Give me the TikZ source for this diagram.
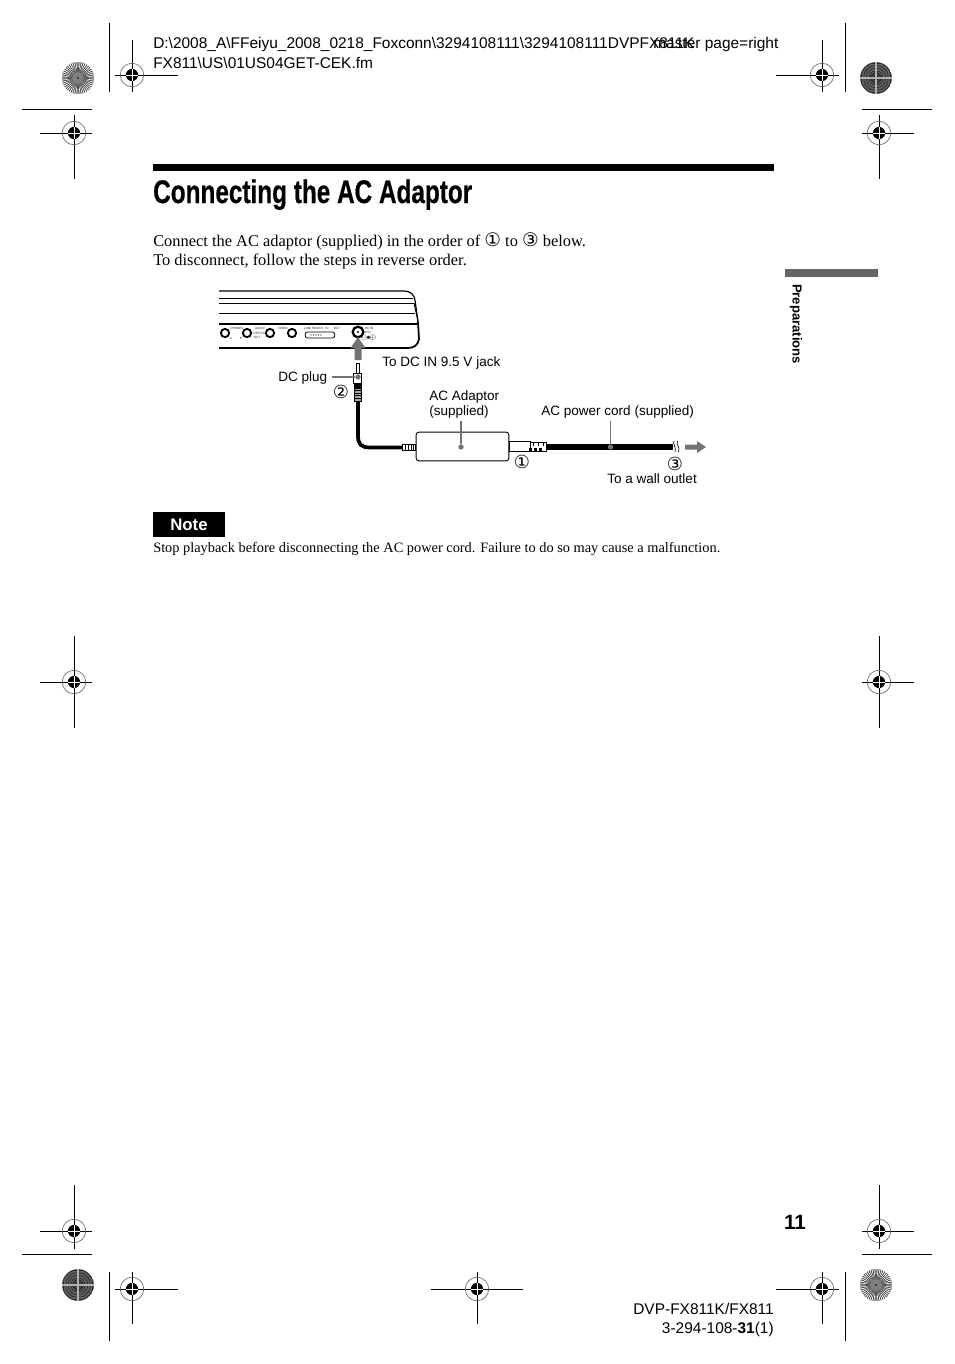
\documentclass[tikz,border=0pt]{standalone}
\usepackage{fontspec}
\setmainfont{Liberation Serif}
\setsansfont{Liberation Sans}
\newfontfamily\symfont{DejaVu Sans}
\usetikzlibrary{arrows,shapes}
\tikzstyle{hdr}=[anchor=base west,inner sep=0pt,font=\sffamily\fontsize{11.6pt}{13pt}\selectfont]
\tikzstyle{body}=[anchor=base west,inner sep=0pt,font=\fontsize{12.3pt}{14pt}\selectfont]
\tikzstyle{lbl}=[anchor=base west,inner sep=0pt,font=\sffamily\fontsize{10.15pt}{11.2pt}\selectfont]
\tikzstyle{num}=[inner sep=0pt,font=\symfont\fontsize{13.5pt}{14pt}\selectfont]
\tikzstyle{tiny}=[inner sep=0pt,font=\sffamily\fontsize{2.3pt}{2.6pt}\selectfont,text=black!85]
\tikzstyle{jack}=[circle,draw=black,line width=1.4pt,inner sep=0pt,minimum size=6.2pt]
\tikzstyle{leader}=[draw=black!55,line width=1pt]
\tikzstyle{ldot}=[circle,fill=black!55,inner sep=0pt,minimum size=4pt]
\tikzstyle{regline}=[line width=.75pt]
\tikzstyle{crop}=[line width=.75pt]
\tikzstyle{bigarrow}=[black!55,fill=black!55,draw=none]
\newcommand{\inum}[1]{{\symfont\fontsize{14pt}{14pt}\selectfont #1}}
\newcommand{\regmark}[6]{%
\draw[regline] (#1-#3,#2)--(#1+#4,#2) (#1,#2-#5)--(#1,#2+#6);
\draw[black!60,line width=.5pt] (#1,#2) circle (8.8pt);
\fill[black] (#1,#2) circle (4.6pt);
\draw[white,line width=.5pt] (#1-6,#2)--(#1+6,#2) (#1,#2-6)--(#1,#2+6);
}
\newcommand{\spokes}[2]{%
\fill[black!80] (#1,#2) circle (12pt);
\foreach \a in {0,7.5,...,352.5}
  \fill[white] ({#1+6*cos(\a)},{#2+6*sin(\a)})--({#1+16*cos(\a-1.9)},{#2+16*sin(\a-1.9)})--({#1+16*cos(\a+1.9)},{#2+16*sin(\a+1.9)})--cycle;
\fill[black!50] (#1,#2) circle (4.5pt);
\fill[black] (#1,#2) circle (.7pt);
}
\newcommand{\moire}[2]{%
\begin{scope}
\clip (#1,#2) circle (12pt);
\fill[black!62] (#1,#2) circle (12pt);
\foreach \r in {2,4.5,...,24}
  \draw[black!85,line width=.5pt,rounded corners=2pt] ({#1-\r},{#2-\r*.45})--({#1-\r*.45},{#2-\r})--({#1+\r*.45},{#2-\r})--({#1+\r},{#2-\r*.45})--({#1+\r},{#2+\r*.45})--({#1+\r*.45},{#2+\r})--({#1-\r*.45},{#2+\r})--({#1-\r},{#2+\r*.45})--cycle;
\draw[black!30,line width=2pt] (#1-16,#2)--(#1+16,#2) (#1,#2-16)--(#1,#2+16);
\end{scope}
}
\begin{document}
\begin{tikzpicture}[x=0.75pt,y=-0.75pt]
\useasboundingbox (0,0) rectangle (954,1364);
\node[hdr] (pathone) at (153,48.7) {D:\textbackslash 2008\_A\textbackslash FFeiyu\_2008\_0218\_Foxconn\textbackslash 3294108111\textbackslash 3294108111DVPFX811K};
\node[hdr] (master) at (653,48.7) {master page=right};
\node[hdr] (pathtwo) at (153,68.7) {FX811\textbackslash US\textbackslash 01US04GET-CEK.fm};
\fill[black] (153,164) rectangle (774,171);
\node[anchor=base west,inner sep=0pt,xscale=.745,font=\sffamily\bfseries\fontsize{24.5pt}{28pt}\selectfont] (title) at (153,203) {\addfontfeature{FakeBold=.6}Connecting the AC Adaptor};
\node[body] (introone) at (153,246) {Connect the AC adaptor (supplied) in the order of \inum{①} to \inum{③} below.};
\node[body] (introtwo) at (153,265) {To disconnect, follow the steps in reverse order.};
\fill[black!60] (785,269) rectangle (878,277);
\node[rotate=-90,inner sep=0pt,font=\sffamily\bfseries\fontsize{9.8pt}{12pt}\selectfont] (prep) at (796,324) {Preparations};
\draw[line width=.9pt] (219,291)--(404,291) .. controls (411,291) and (414,295) .. (415,300) -- (418,322);
\draw[line width=.7pt] (219,298)--(413,298);
\draw[line width=.7pt] (219,303)--(414,303);
\draw[line width=1.2pt] (219,313.5)--(415,313.5);
\draw[line width=.7pt] (414,303)--(418,321);
\draw[line width=.9pt] (219,324)--(418,324);
\draw[line width=1.3pt] (219,348)--(408,348) .. controls (414,348) and (418,345) .. (419,339) -- (418,322);
\node[jack] (phonea) at (225,333) {};
\node[jack] (phoneb) at (247,333) {};
\node[jack] (audio) at (270,333) {};
\node[jack] (video) at (292,333) {};
\node[jack,line width=1.7pt,minimum size=8pt] (dcin) at (358,332) {};
\fill[black] (358,332) circle (.9pt);
\node[draw=black,line width=.6pt,rounded corners=1.5pt,minimum width=22pt,minimum height=4.5pt,inner sep=0pt] (slider) at (320,335) {};
\foreach \x in {311,313.5,...,322} \fill[black] (\x,335) circle (.45pt);
\node[tiny] (tphones) at (237,328) {PHONES};
\node[tiny] (ta) at (231,338) {A};
\node[tiny] (tb) at (241,338) {B};
\node[tiny] (taudio) at (260,328) {AUDIO};
\node[tiny] (toptical) at (260,333) {OPTICAL};
\node[tiny] (tout) at (257,337) {OUT};
\node[tiny] (tvideo) at (283,328) {VIDEO};
\node[tiny] (tline) at (314,328) {LINE SELECT};
\node[tiny] (tin) at (327,328) {IN};
\node[tiny] (tsel) at (337,328) {OUT};
\node[tiny] (tdc) at (369,328) {DC IN};
\node[tiny] (tvolt) at (368,332) {9.5V};
\node[tiny] (tsym) at (368.5,338) {$\scriptscriptstyle\ominus\!\bullet\!\oplus$};
\fill[bigarrow] (358,337)--(365.5,348)--(361.5,348)--(361.5,360)--(354.5,360)--(354.5,348)--(350.5,348)--cycle;
\node[draw=black,fill=white,line width=.7pt,minimum width=2.2pt,minimum height=7.5pt,inner sep=0pt] (pin) at (357.5,368) {};
\node[draw=black,fill=white,line width=.7pt,minimum width=5.8pt,minimum height=7.5pt,inner sep=0pt] (plug) at (357.5,378) {};
\node[fill=black,minimum width=6pt,minimum height=3.6pt,inner sep=0pt] (band) at (357.5,385.5) {};
\node[draw=black,fill=black!35,line width=.5pt,minimum width=5pt,minimum height=10pt,inner sep=0pt] (reliefa) at (358,394.5) {};
\foreach \y in {390.5,393,...,399} \draw[black,line width=.6pt] (354.8,\y)--(361.2,\y);
\node[draw=black,line width=.7pt,rounded corners=2pt,fill=white,minimum width=69.5pt,minimum height=21.5pt,inner sep=0pt] (adaptor) at (462.5,446.5) {};
\node[draw=black,fill=white,line width=.6pt,minimum width=10pt,minimum height=4.5pt,inner sep=0pt] (reliefb) at (409,447.5) {};
\draw[line width=.7pt] (405,445) -- (405,450) (408,445) -- (408,450) (411,445) -- (411,450) (413.5,445) -- (413.5,450);
\draw[line width=2.8pt] (reliefa.south) -- (358,436) .. controls (358,444) and (361,447.5) .. (370,447.5) -- (reliefb.west);
\node[draw=black,fill=white,line width=.7pt,minimum width=16pt,minimum height=7pt,inner sep=0pt,anchor=west] (acplug) at (509,446.5) {};
\node[draw=black,fill=white,line width=.6pt,minimum width=12pt,minimum height=6.5pt,inner sep=0pt,anchor=west] (reliefc) at (530,447) {};
\foreach \x in {529,534,539} {\fill[black] (\x,447.5)rectangle(\x+2.5,451); \fill[black] (\x+3.5,443)rectangle(\x+4.8,446);}
\coordinate (cordend) at (673,447);
\draw[line width=5pt] (reliefc.east) -- (cordend);
\draw[line width=.5pt] (674,441) .. controls (672,444) and (677,447) .. (675,452);
\draw[line width=.5pt] (677.5,441) .. controls (675.5,444) and (680.5,447) .. (678.5,452);
\fill[bigarrow] (685,444.5)--(697,444.5)--(697,441)--(706,447)--(697,453)--(697,449.5)--(685,449.5)--cycle;
\node[lbl] (ldcplug) at (278,381) {DC plug};
\node[ldot] (dplug) at (358,377) {};
\coordinate (cplug) at (332,377);
\draw[leader] (cplug) -- (dplug);
\node[lbl] (ljack) at (382,366) {To DC IN 9.5 V jack};
\node[lbl] (ladaptor) at (429,400.3) {AC Adaptor};
\node[lbl] (lsup) at (429,415.3) {(supplied)};
\node[ldot] (dadaptor) at (461,447) {};
\coordinate (cadaptor) at (461,421);
\draw[leader] (cadaptor) -- (dadaptor);
\node[lbl] (lcord) at (541,415.3) {AC power cord (supplied)};
\node[ldot] (dcord) at (610.5,447) {};
\coordinate (ccord) at (610.5,421);
\draw[leader] (ccord) -- (dcord);
\node[lbl] (lwall) at (607,483) {To a wall outlet};
\node[num] (numtwo) at (341,392) {②};
\node[num] (numone) at (522,462) {①};
\node[num] (numthree) at (675,464) {③};
\fill[black] (153,512) rectangle (225,537);
\node[text=white,inner sep=0pt,font=\sffamily\bfseries\fontsize{12.6pt}{14pt}\selectfont] (note) at (189,524.5) {Note};
\node[body,font=\fontsize{10.77pt}{12pt}\selectfont] (notetext) at (153,552) {Stop playback before disconnecting the AC power cord. Failure to do so may cause a malfunction.};
\node[anchor=base,inner sep=0pt,font=\sffamily\bfseries\fontsize{15.5pt}{18pt}\selectfont] (page) at (795,1229) {11};
\node[anchor=base east,inner sep=0pt,font=\sffamily\fontsize{11.6pt}{13pt}\selectfont] (modelone) at (774,1314) {DVP-FX811K/FX811};
\node[anchor=base east,inner sep=0pt,font=\sffamily\fontsize{11.6pt}{13pt}\selectfont] (modeltwo) at (774,1333) {3-294-108-\textbf{31}(1)};
\regmark{132}{75}{17}{46}{35}{17}
\regmark{74}{133}{34}{18}{18}{46}
\regmark{822}{75}{46}{17}{35}{17}
\regmark{879}{133}{17}{35}{18}{46}
\regmark{74}{682}{34}{18}{46}{46}
\regmark{879}{682}{17}{35}{46}{46}
\regmark{74}{1231}{34}{18}{46}{18}
\regmark{879}{1231}{17}{35}{46}{18}
\regmark{132}{1289}{17}{46}{17}{35}
\regmark{477}{1289}{46}{46}{17}{35}
\regmark{822}{1289}{46}{17}{17}{35}
\draw[crop] (109,23)--(109,92);
\draw[crop] (845,23)--(845,92);
\draw[crop] (109,1272)--(109,1341);
\draw[crop] (845,1272)--(845,1341);
\draw[crop] (22,109)--(92,109);
\draw[crop] (862,109)--(932,109);
\draw[crop] (22,1254)--(92,1254);
\draw[crop] (862,1254)--(932,1254);
\spokes{78}{78}
\moire{876}{78}
\moire{78}{1285}
\spokes{876}{1285}
\end{tikzpicture}
\end{document}
